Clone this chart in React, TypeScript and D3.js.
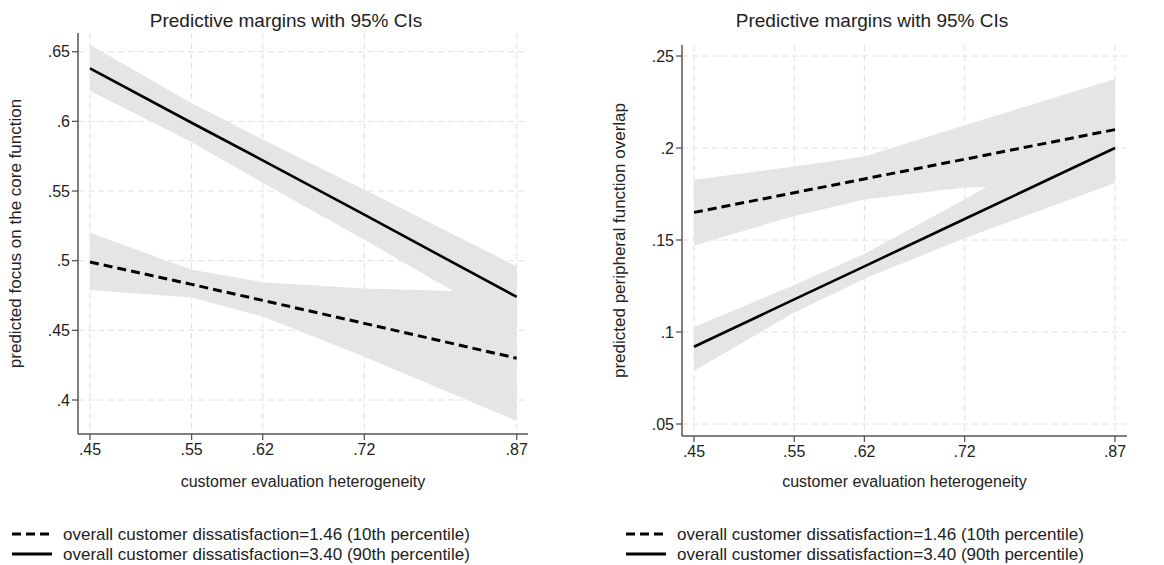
import React from "react";
import * as d3 from "d3";

// ---- data ----
const heterogeneity = [0.45, 0.55, 0.62, 0.72, 0.87];
const xTickLabels = [".45", ".55", ".62", ".72", ".87"];

// Left panel: predicted focus on the core function
const leftYTicks = [0.4, 0.45, 0.5, 0.55, 0.6, 0.65];
const leftYTickLabels = [".4", ".45", ".5", ".55", ".6", ".65"];
const leftLow = [0.499, 0.483, 0.4715, 0.455, 0.430];
const leftLowLower = [0.479, 0.4735, 0.460, 0.431, 0.385];
const leftLowUpper = [0.520, 0.4935, 0.4845, 0.480, 0.477];
const leftHigh = [0.638, 0.599, 0.572, 0.533, 0.474];
const leftHighLower = [0.622, 0.585, 0.556, 0.515, 0.452];
const leftHighUpper = [0.655, 0.613, 0.587, 0.551, 0.496];

// Right panel: predicted peripheral function overlap
const rightYTicks = [0.05, 0.1, 0.15, 0.2, 0.25];
const rightYTickLabels = [".05", ".1", ".15", ".2", ".25"];
const rightLow = [0.165, 0.1757, 0.1832, 0.1939, 0.210];
const rightLowLower = [0.147, 0.163, 0.172, 0.1785, 0.181];
const rightLowUpper = [0.1828, 0.190, 0.1954, 0.2123, 0.2375];
const rightHigh = [0.092, 0.1177, 0.1357, 0.1614, 0.200];
const rightHighLower = [0.079, 0.1105, 0.129, 0.151, 0.181];
const rightHighUpper = [0.1027, 0.1255, 0.1425, 0.172, 0.219];

const titleText = "Predictive margins with 95% CIs";
const xTitle = "customer evaluation heterogeneity";
const legendLabels = [
  "overall customer dissatisfaction=1.46 (10th percentile)",
  "overall customer dissatisfaction=3.40 (90th percentile)",
];

const FONT = "'Liberation Sans', Arial, Helvetica, sans-serif";
const BAND = "#e5e5e5";
const GRID = "#e0e0e0";
const AXIS = "#555";

type PanelProps = {
  yTicks: number[];
  yTickLabels: string[];
  yTitle: string;
  low: number[];
  lowLower: number[];
  lowUpper: number[];
  high: number[];
  highLower: number[];
  highUpper: number[];
  axisLeft: number;
  axisRight: number;
  axisTop: number;
  axisBottom: number;
  xRange: [number, number];
  yRange: [number, number];
  titleX: number;
  yTitleX: number;
  legendX: number;
};

function Panel(p: PanelProps) {
  const x = d3.scaleLinear().domain([0.45, 0.87]).range(p.xRange);
  const y = d3
    .scaleLinear()
    .domain([p.yTicks[0], p.yTicks[p.yTicks.length - 1]])
    .range(p.yRange);
  const idx = heterogeneity.map((_, i) => i);
  const area = (lo: number[], hi: number[]) =>
    d3
      .area<number>()
      .x((i) => x(heterogeneity[i]))
      .y0((i) => y(lo[i]))
      .y1((i) => y(hi[i]))(idx) || "";
  const line = (v: number[]) =>
    d3
      .line<number>()
      .x((i) => x(heterogeneity[i]))
      .y((i) => y(v[i]))(idx) || "";
  const plotMidX = (p.axisLeft + p.axisRight) / 2;
  const plotMidY = (p.axisTop + p.axisBottom) / 2;
  return (
    <g fontFamily={FONT} fill="#222">
      <text x={p.titleX} y={27} textAnchor="middle" fontSize={19}>
        {titleText}
      </text>
      {/* grid */}
      {p.yTicks.map((t) => (
        <line
          key={"gy" + t}
          x1={p.axisLeft}
          x2={p.axisRight}
          y1={y(t)}
          y2={y(t)}
          stroke={GRID}
          strokeWidth={1}
          strokeDasharray="6,4"
        />
      ))}
      {heterogeneity.map((t) => (
        <line
          key={"gx" + t}
          x1={x(t)}
          x2={x(t)}
          y1={p.axisTop}
          y2={p.axisBottom}
          stroke={GRID}
          strokeWidth={1}
          strokeDasharray="6,4"
        />
      ))}
      {/* bands */}
      <path d={area(p.lowLower, p.lowUpper)} fill={BAND} />
      <path d={area(p.highLower, p.highUpper)} fill={BAND} />
      {/* lines */}
      <path
        d={line(p.low)}
        fill="none"
        stroke="#000"
        strokeWidth={3}
        strokeDasharray="9,5"
      />
      <path d={line(p.high)} fill="none" stroke="#000" strokeWidth={2.6} />
      {/* axes */}
      <line
        x1={p.axisLeft}
        x2={p.axisLeft}
        y1={p.axisTop}
        y2={p.axisBottom}
        stroke={AXIS}
        strokeWidth={1.5}
      />
      <line
        x1={p.axisLeft}
        x2={p.axisRight}
        y1={p.axisBottom}
        y2={p.axisBottom}
        stroke={AXIS}
        strokeWidth={1.5}
      />
      {p.yTicks.map((t, i) => (
        <g key={"ty" + t}>
          <line
            x1={p.axisLeft - 6}
            x2={p.axisLeft}
            y1={y(t)}
            y2={y(t)}
            stroke={AXIS}
            strokeWidth={1.3}
          />
          <text
            x={p.axisLeft - 8}
            y={y(t)}
            dy="0.35em"
            textAnchor="end"
            fontSize={16}
          >
            {p.yTickLabels[i]}
          </text>
        </g>
      ))}
      {heterogeneity.map((t, i) => (
        <g key={"tx" + t}>
          <line
            x1={x(t)}
            x2={x(t)}
            y1={p.axisBottom}
            y2={p.axisBottom + 6}
            stroke={AXIS}
            strokeWidth={1.3}
          />
          <text
            x={x(t)}
            y={p.axisBottom + 8}
            dy="0.8em"
            textAnchor="middle"
            fontSize={16}
          >
            {xTickLabels[i]}
          </text>
        </g>
      ))}
      <text x={plotMidX} y={487} textAnchor="middle" fontSize={16}>
        {xTitle}
      </text>
      <text
        transform={`translate(${p.yTitleX},${plotMidY}) rotate(-90)`}
        textAnchor="middle"
        fontSize={17}
      >
        {p.yTitle}
      </text>
      {/* legend */}
      {legendLabels.map((lab, i) => {
        const ly = 534 + i * 20;
        return (
          <g key={lab}>
            <line
              x1={p.legendX}
              x2={p.legendX + 40}
              y1={ly}
              y2={ly}
              stroke="#000"
              strokeWidth={i === 0 ? 3 : 2.8}
              strokeDasharray={i === 0 ? "9,5" : undefined}
            />
            <text x={p.legendX + 51} y={ly} dy="0.35em" fontSize={17}>
              {lab}
            </text>
          </g>
        );
      })}
    </g>
  );
}

export default function App() {
  return (
    <svg
      width={1164}
      height={565}
      style={{ position: "absolute", left: 0, top: 0, background: "#fff" }}
    >
      <rect width={1164} height={565} fill="#fff" />
      <Panel
        yTicks={leftYTicks}
        yTickLabels={leftYTickLabels}
        yTitle="predicted focus on the core function"
        low={leftLow}
        lowLower={leftLowLower}
        lowUpper={leftLowUpper}
        high={leftHigh}
        highLower={leftHighLower}
        highUpper={leftHighUpper}
        axisLeft={78}
        axisRight={528}
        axisTop={33}
        axisBottom={434}
        xRange={[90, 516.7]}
        yRange={[400, 51.7]}
        titleX={286}
        yTitleX={21}
        legendX={12}
      />
      <Panel
        yTicks={rightYTicks}
        yTickLabels={rightYTickLabels}
        yTitle="predicted peripheral function overlap"
        low={rightLow}
        lowLower={rightLowLower}
        lowUpper={rightLowUpper}
        high={rightHigh}
        highLower={rightHighLower}
        highUpper={rightHighUpper}
        axisLeft={682}
        axisRight={1127}
        axisTop={45}
        axisBottom={436}
        xRange={[694, 1115]}
        yRange={[424, 56]}
        titleX={872}
        yTitleX={625}
        legendX={626}
      />
    </svg>
  );
}
